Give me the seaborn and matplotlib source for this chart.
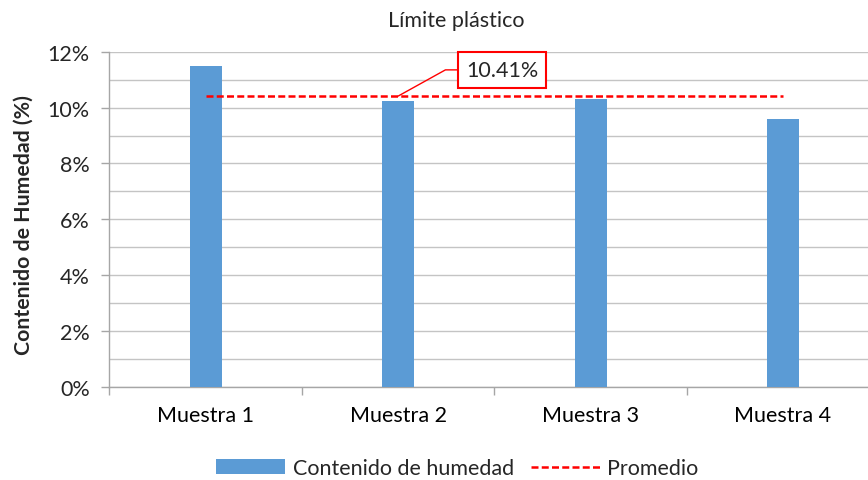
import numpy as np
import pandas as pd
import matplotlib
matplotlib.use("Agg")
import matplotlib.pyplot as plt
from matplotlib.ticker import FixedLocator, MultipleLocator, FuncFormatter, NullFormatter
from matplotlib.patches import Patch
from matplotlib.lines import Line2D
import seaborn as sns

# Moisture content of each sample (%), plastic-limit test
muestras = ["Muestra 1", "Muestra 2", "Muestra 3", "Muestra 4"]
humedad = [11.50, 10.23, 10.32, 9.59]
titulo = "Límite plástico"
etiqueta_y = "Contenido de Humedad (%)"
serie_barras = "Contenido de humedad"
serie_linea = "Promedio"

promedio = float(np.mean(humedad))

sns.set_style("white")
plt.rcParams["font.family"] = ["Lato", "DejaVu Sans"]

FS = 15.5
AZUL = "#5B9BD5"
GRIS_GRID = "#c4c4c4"
GRIS_EJE = "#a6a6a6"
DASH = (0, (2.8, 1.3))

fig = plt.figure(figsize=(8.68, 4.81), dpi=100)
ax = fig.add_axes([0.1259, 0.1933, 0.8871, 0.6971])

df = pd.DataFrame({"Muestra": muestras, "Humedad": humedad})
sns.barplot(data=df, x="Muestra", y="Humedad", color=AZUL, saturation=1,
            width=0.166, linewidth=0, errorbar=None, ax=ax, zorder=3)

# Average as a dashed line across the sample positions
x_pos = np.arange(len(muestras))
sns.lineplot(x=x_pos, y=[promedio] * len(muestras), ax=ax, color="red",
             linewidth=1.8, linestyle=DASH, zorder=4, legend=False)

ax.set_xlim(-0.5, len(muestras) - 0.5)
ax.set_ylim(0, 12)

# x axis: ticks at category boundaries, labels at centres
ax.xaxis.set_major_locator(FixedLocator(np.arange(-0.5, len(muestras), 1.0)))
ax.xaxis.set_major_formatter(NullFormatter())
ax.xaxis.set_minor_locator(FixedLocator(x_pos))
ax.xaxis.set_minor_formatter(FuncFormatter(lambda v, p: muestras[int(round(v))]))
ax.tick_params(axis="x", which="major", length=6, width=1, color=GRIS_EJE,
               direction="out", bottom=True)
ax.tick_params(axis="x", which="minor", length=0, pad=13, labelsize=FS,
               labelcolor="#000000")

# y axis: labels every 2 %, gridlines every 1 %
ax.yaxis.set_major_locator(MultipleLocator(2))
ax.yaxis.set_minor_locator(MultipleLocator(1))
ax.yaxis.set_major_formatter(FuncFormatter(lambda v, p: f"{v:.0f}%"))
ax.tick_params(axis="y", which="major", length=6, width=1, color=GRIS_EJE,
               direction="out", left=True, labelsize=FS, pad=8)
ax.tick_params(axis="y", which="minor", length=0)
ax.grid(True, axis="y", which="both", color=GRIS_GRID, linewidth=1, zorder=0)
ax.grid(False, axis="x")
ax.set_axisbelow(True)

for lado in ["top", "right"]:
    ax.spines[lado].set_visible(False)
for lado in ["left", "bottom"]:
    ax.spines[lado].set_color(GRIS_EJE)
    ax.spines[lado].set_linewidth(1)

ax.set_xlabel("")
ax.set_ylabel(etiqueta_y, fontsize=15.3, fontweight="bold")
ax.yaxis.set_label_coords(-0.098, 0.486)

# Callout with the average value
ax.annotate(f"{promedio:.2f}%", xy=(1, promedio), xytext=(1.541, 11.35),
            textcoords="data", ha="center", va="center", fontsize=FS,
            bbox=dict(boxstyle="square,pad=0.36", fc="white", ec="red", lw=1.5),
            arrowprops=dict(arrowstyle="-", color="red", lw=1,
                            connectionstyle="angle,angleA=0,angleB=29,rad=0",
                            relpos=(0, 0.5), shrinkA=0, shrinkB=0),
            zorder=6)

fig.text(456 / 868, 1 - 21 / 481, titulo, ha="center", va="center", fontsize=FS)

handles = [Patch(facecolor=AZUL, edgecolor="none", label=serie_barras),
           Line2D([0], [0], color="red", linewidth=1.8, linestyle=DASH,
                  label=serie_linea)]
fig.legend(handles=handles, loc="center", bbox_to_anchor=(0.527, 0.025),
           ncol=2, frameon=False, fontsize=FS, handlelength=3.2,
           handleheight=0.65, handletextpad=0.35, columnspacing=0.8,
           borderpad=0, borderaxespad=0)

fig.savefig("out.png", dpi=100)
